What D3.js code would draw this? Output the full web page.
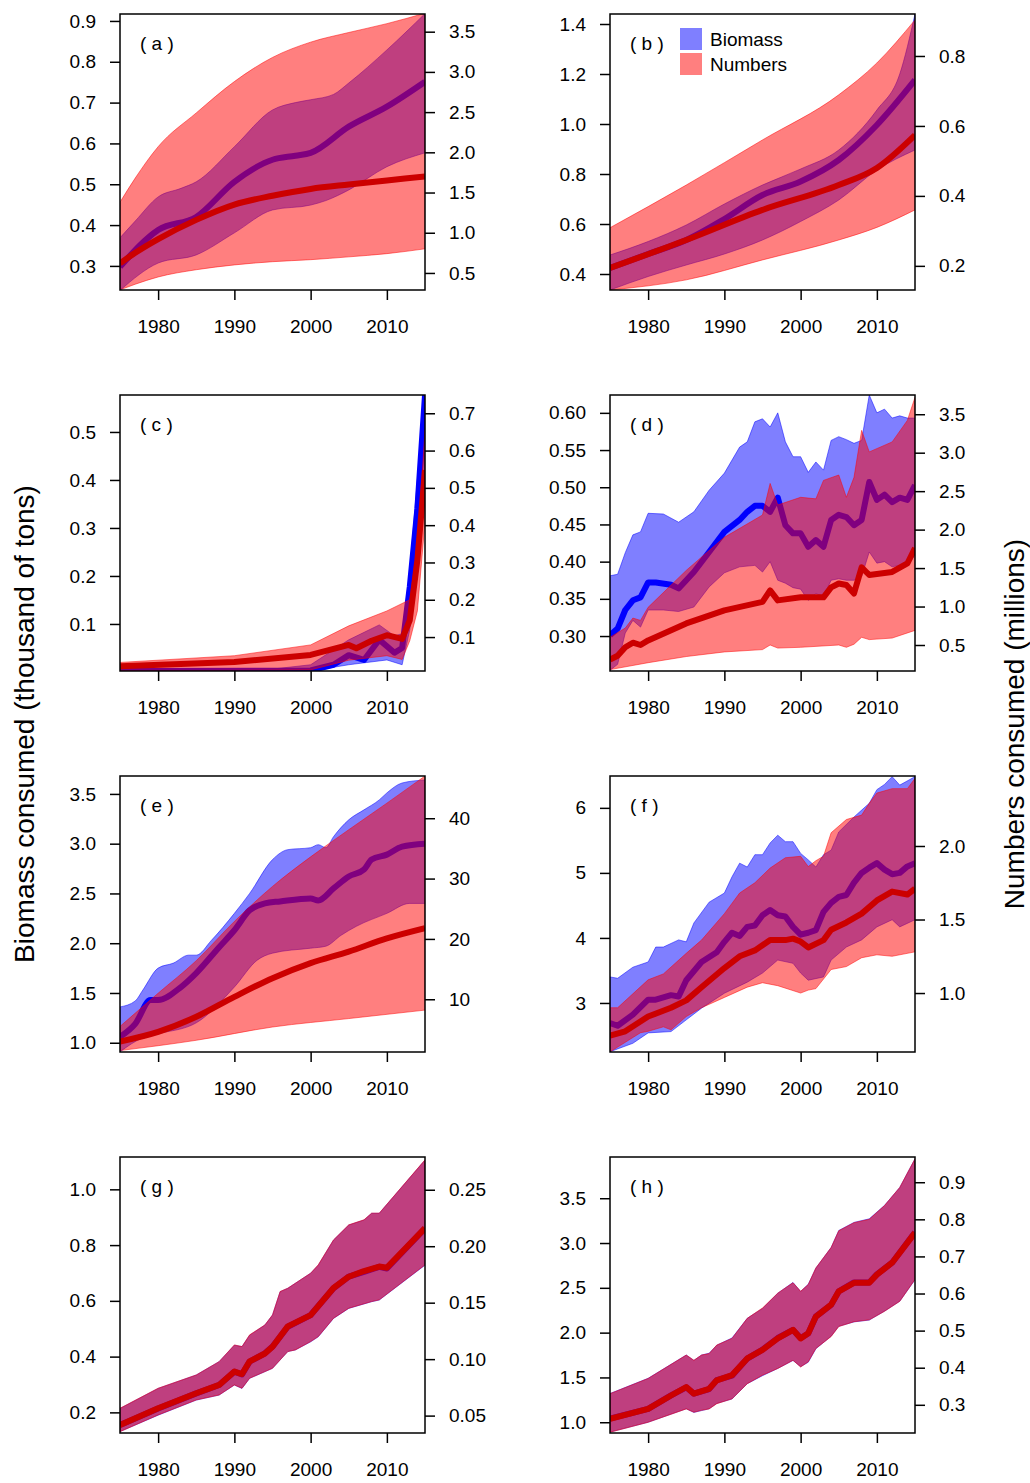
<!DOCTYPE html>
<html>
<head>
<meta charset="utf-8">
<script src="https://cdn.jsdelivr.net/npm/d3@7"></script>
<style>
  body { margin: 0; background: #fff; }
  svg { font-family: "Liberation Sans", Arial, sans-serif; }
</style>
</head>
<body>
<svg width="1030" height="1483"></svg>
<script>
// ---- data: [year, value]; biomass on left axis, numbers on right axis ----
const aBioHi = [[1975,0.369],[1977,0.41],[1980,0.469],[1983,0.49],[1985,0.506],[1990,0.592],[1995,0.682],[1998,0.70],[2000,0.707],[2003,0.72],[2005,0.748],[2010,0.829],[2015,0.918]];
const aBioMid = [[1975,0.298],[1980,0.388],[1985,0.42],[1990,0.506],[1995,0.56],[1998,0.57],[2000,0.577],[2005,0.641],[2010,0.69],[2015,0.751]];
const aBioLo = [[1975,0.24],[1980,0.307],[1985,0.327],[1990,0.381],[1995,0.437],[2000,0.449],[2002,0.46],[2005,0.486],[2010,0.543],[2015,0.577]];
const aNumHi = [[1975,1.38],[1977,1.68],[1980,2.07],[1985,2.49],[1990,2.88],[1995,3.18],[2000,3.37],[2005,3.49],[2010,3.60],[2015,3.73]];
const aNumMid = [[1975,0.62],[1977,0.75],[1980,0.92],[1985,1.16],[1990,1.35],[1995,1.46],[2000,1.545],[2005,1.60],[2010,1.65],[2015,1.70]];
const aNumLo = [[1975,0.29],[1977,0.36],[1980,0.45],[1985,0.54],[1990,0.60],[1995,0.64],[2000,0.665],[2005,0.70],[2010,0.74],[2015,0.80]];

const bBioHi = [[1975,0.476],[1980,0.53],[1985,0.596],[1990,0.68],[1995,0.756],[2000,0.82],[2005,0.896],[2010,1.056],[2013,1.2],[2015,1.44]];
const bBioMid = [[1975,0.424],[1980,0.48],[1985,0.536],[1990,0.62],[1995,0.716],[2000,0.77],[2005,0.856],[2010,0.996],[2015,1.176]];
const bBioLo = [[1975,0.336],[1980,0.39],[1985,0.436],[1990,0.48],[1995,0.536],[2000,0.61],[2005,0.696],[2010,0.816],[2015,0.896]];
const bNumHi = [[1975,0.309],[1985,0.431],[1995,0.56],[2005,0.689],[2010,0.78],[2015,0.903]];
const bNumMid = [[1975,0.194],[1985,0.274],[1995,0.36],[2005,0.431],[2010,0.48],[2015,0.574]];
const bNumLo = [[1975,0.131],[1985,0.16],[1995,0.217],[2005,0.274],[2010,0.31],[2015,0.36]];

const cBioHi = [[1975,0.005],[1995,0.006],[2000,0.015],[2005,0.067],[2009,0.098],[2011,0.075],[2012,0.08],[2013,0.21],[2014,0.4],[2015,0.577]];
const cBioMid = [[1975,0.002],[2000,0.003],[2003,0.015],[2005,0.035],[2007,0.025],[2009,0.067],[2011,0.04],[2012,0.05],[2013,0.177],[2014,0.34],[2015,0.577]];
const cBioLo = [[1975,0.002],[2000,0.002],[2005,0.015],[2010,0.025],[2012,0.015],[2013,0.088],[2014,0.23],[2015,0.42]];
const cNumHi = [[1975,0.032],[1990,0.05],[2000,0.079],[2005,0.13],[2010,0.17],[2013,0.2],[2014,0.34],[2015,0.655]];
const cNumMid = [[1975,0.022],[1990,0.033],[2000,0.052],[2005,0.079],[2006,0.07],[2008,0.09],[2010,0.105],[2012,0.095],[2013,0.145],[2014,0.306],[2015,0.548]];
const cNumLo = [[1975,0.009],[2000,0.012],[2005,0.038],[2010,0.05],[2012,0.04],[2013,0.09],[2014,0.17],[2015,0.41]];

const dBioHi = [[1975,0.381],[1976,0.383],[1977,0.412],[1978,0.436],[1979,0.44],[1980,0.465],[1982,0.464],[1984,0.453],[1986,0.467],[1988,0.496],[1990,0.519],[1992,0.554],[1993,0.561],[1994,0.588],[1995,0.592],[1996,0.581],[1997,0.60],[1998,0.561],[1999,0.541],[2000,0.541],[2001,0.52],[2002,0.534],[2003,0.523],[2004,0.563],[2005,0.568],[2006,0.564],[2007,0.559],[2008,0.563],[2009,0.624],[2010,0.60],[2011,0.605],[2012,0.593],[2013,0.596],[2014,0.593],[2015,0.593]];
const dBioMid = [[1975,0.301],[1976,0.31],[1977,0.335],[1978,0.348],[1979,0.352],[1980,0.372],[1981,0.372],[1983,0.369],[1984,0.364],[1986,0.386],[1988,0.413],[1990,0.44],[1992,0.456],[1993,0.467],[1994,0.475],[1995,0.475],[1996,0.467],[1997,0.486],[1998,0.449],[1999,0.438],[2000,0.438],[2001,0.42],[2002,0.429],[2003,0.42],[2004,0.456],[2005,0.463],[2006,0.46],[2007,0.449],[2008,0.456],[2009,0.507],[2010,0.483],[2011,0.49],[2012,0.48],[2013,0.486],[2014,0.483],[2015,0.503]];
const dBioLo = [[1975,0.254],[1976,0.262],[1977,0.304],[1978,0.321],[1979,0.312],[1980,0.335],[1982,0.335],[1984,0.333],[1986,0.339],[1988,0.366],[1990,0.385],[1992,0.393],[1994,0.395],[1995,0.386],[1996,0.40],[1997,0.375],[1998,0.371],[1999,0.365],[2000,0.363],[2001,0.348],[2002,0.357],[2003,0.353],[2004,0.375],[2005,0.377],[2006,0.375],[2007,0.375],[2008,0.38],[2009,0.413],[2010,0.398],[2011,0.40],[2012,0.393],[2013,0.395],[2014,0.395],[2015,0.409]];
const dNumHi = [[1975,0.60],[1977,0.72],[1978,0.85],[1979,0.82],[1980,0.99],[1985,1.47],[1990,1.90],[1995,2.19],[1996,2.60],[1997,2.32],[2000,2.42],[2002,2.40],[2003,2.64],[2005,2.71],[2006,2.42],[2007,2.68],[2008,3.29],[2009,3.01],[2012,3.14],[2014,3.42],[2015,3.72]];
const dNumMid = [[1975,0.31],[1976,0.36],[1977,0.47],[1978,0.53],[1979,0.50],[1980,0.56],[1985,0.78],[1990,0.95],[1995,1.06],[1996,1.21],[1997,1.08],[2000,1.12],[2003,1.12],[2004,1.25],[2005,1.30],[2006,1.28],[2007,1.17],[2008,1.51],[2009,1.41],[2012,1.45],[2014,1.56],[2015,1.76]];
const dNumLo = [[1975,0.18],[1980,0.27],[1985,0.35],[1990,0.41],[1995,0.44],[1996,0.50],[1997,0.46],[2000,0.47],[2005,0.50],[2006,0.47],[2007,0.51],[2008,0.60],[2009,0.57],[2012,0.59],[2015,0.69]];

const eBioHi = [[1975,1.36],[1977,1.42],[1978,1.53],[1980,1.75],[1982,1.80],[1984,1.88],[1985,1.88],[1987,2.03],[1990,2.30],[1992,2.50],[1995,2.84],[1997,2.94],[2000,2.96],[2001,2.99],[2002,2.96],[2003,3.07],[2005,3.24],[2007,3.34],[2009,3.44],[2010,3.51],[2012,3.61],[2015,3.64]];
const eBioMid = [[1975,1.06],[1977,1.19],[1979,1.43],[1980,1.43],[1983,1.56],[1985,1.70],[1988,1.96],[1990,2.13],[1992,2.33],[1994,2.40],[1996,2.42],[2000,2.45],[2001,2.43],[2003,2.55],[2005,2.67],[2007,2.74],[2008,2.84],[2010,2.89],[2012,2.97],[2015,3.00]];
const eBioLo = [[1975,0.91],[1978,1.05],[1980,1.09],[1985,1.20],[1990,1.56],[1993,1.83],[1995,1.90],[2000,1.95],[2002,1.97],[2004,2.08],[2006,2.17],[2010,2.30],[2013,2.40],[2015,2.40]];
const eNumHi = [[1975,5.5],[1980,11.0],[1985,16.4],[1990,22.9],[1995,28.7],[2000,33.6],[2005,38.1],[2010,42.5],[2015,47.0]];
const eNumMid = [[1975,3.0],[1980,4.6],[1985,7.1],[1990,10.4],[1995,13.5],[2000,16.0],[2005,17.9],[2010,20.1],[2015,21.8]];
const eNumLo = [[1975,1.5],[1985,3.2],[1995,5.4],[2005,6.8],[2015,8.2]];

const fBioHi = [[1975,3.40],[1976,3.38],[1978,3.55],[1980,3.63],[1981,3.86],[1982,3.86],[1984,3.97],[1985,3.94],[1986,4.23],[1988,4.55],[1990,4.69],[1991,4.94],[1992,5.15],[1993,5.09],[1994,5.28],[1995,5.28],[1996,5.46],[1997,5.58],[1998,5.48],[1999,5.48],[2000,5.30],[2001,5.20],[2002,5.09],[2003,5.28],[2004,5.35],[2005,5.63],[2007,5.86],[2009,6.07],[2010,6.28],[2011,6.36],[2012,6.48],[2013,6.35],[2015,6.48]];
const fBioMid = [[1975,2.69],[1976,2.65],[1978,2.82],[1980,3.05],[1981,3.05],[1983,3.12],[1984,3.10],[1985,3.35],[1987,3.63],[1989,3.78],[1990,3.94],[1991,4.08],[1992,4.03],[1993,4.17],[1994,4.19],[1995,4.35],[1996,4.43],[1997,4.35],[1998,4.33],[1999,4.17],[2000,4.05],[2001,4.08],[2002,4.12],[2003,4.40],[2004,4.54],[2005,4.63],[2006,4.66],[2007,4.85],[2008,5.00],[2009,5.08],[2010,5.15],[2011,5.05],[2012,4.98],[2013,5.00],[2014,5.10],[2015,5.15]];
const fBioLo = [[1975,2.25],[1978,2.38],[1980,2.54],[1983,2.56],[1985,2.74],[1987,2.92],[1990,3.15],[1993,3.32],[1995,3.46],[1997,3.66],[1999,3.61],[2000,3.46],[2001,3.35],[2003,3.40],[2004,3.66],[2006,3.86],[2008,3.97],[2010,4.17],[2012,4.28],[2013,4.17],[2015,4.28]];
const fNumHi = [[1975,0.90],[1976,0.90],[1980,1.09],[1982,1.13],[1985,1.27],[1987,1.36],[1990,1.54],[1992,1.68],[1994,1.75],[1996,1.85],[1998,1.92],[2000,1.93],[2001,1.86],[2002,1.90],[2003,1.93],[2004,2.09],[2006,2.18],[2008,2.21],[2009,2.29],[2010,2.36],[2012,2.39],[2014,2.39],[2015,2.46]];
const fNumMid = [[1975,0.71],[1977,0.74],[1980,0.84],[1983,0.90],[1985,0.95],[1987,1.04],[1990,1.17],[1992,1.25],[1994,1.29],[1996,1.36],[1998,1.36],[1999,1.37],[2000,1.35],[2001,1.31],[2003,1.36],[2004,1.43],[2006,1.48],[2008,1.54],[2010,1.63],[2012,1.69],[2014,1.67],[2015,1.71]];
const fNumLo = [[1975,0.60],[1979,0.73],[1980,0.74],[1982,0.77],[1983,0.75],[1985,0.84],[1987,0.90],[1990,0.97],[1993,1.04],[1995,1.07],[1997,1.05],[2000,1.00],[2001,1.02],[2002,1.03],[2004,1.16],[2006,1.18],[2008,1.24],[2010,1.26],[2012,1.25],[2015,1.28]];

const gBioHi = [[1975,0.214],[1980,0.286],[1985,0.334],[1988,0.382],[1990,0.441],[1991,0.436],[1992,0.477],[1994,0.513],[1995,0.549],[1996,0.633],[1997,0.645],[1999,0.681],[2000,0.699],[2001,0.728],[2003,0.818],[2005,0.872],[2007,0.890],[2008,0.914],[2009,0.914],[2015,1.105]];
const gBioMid = [[1975,0.155],[1980,0.214],[1985,0.268],[1988,0.298],[1990,0.346],[1991,0.336],[1992,0.382],[1994,0.412],[1995,0.436],[1997,0.507],[2000,0.549],[2003,0.645],[2005,0.687],[2007,0.704],[2009,0.722],[2010,0.716],[2015,0.860]];
const gBioLo = [[1975,0.131],[1980,0.190],[1985,0.244],[1988,0.262],[1990,0.298],[1991,0.286],[1992,0.322],[1995,0.358],[1997,0.418],[1998,0.424],[2000,0.453],[2001,0.471],[2003,0.537],[2005,0.573],[2008,0.597],[2009,0.603],[2015,0.728]];
const gNumHi = [[1975,0.0565],[1980,0.0742],[1985,0.086],[1988,0.0978],[1990,0.1126],[1991,0.1111],[1992,0.1215],[1994,0.1303],[1995,0.1392],[1996,0.1599],[1997,0.1628],[1999,0.1717],[2000,0.1761],[2001,0.1835],[2003,0.2056],[2005,0.2189],[2007,0.2234],[2008,0.2293],[2009,0.2293],[2015,0.2765]];
const gNumMid = [[1975,0.0417],[1980,0.0565],[1985,0.0698],[1988,0.0772],[1990,0.089],[1991,0.0868],[1992,0.098],[1994,0.105],[1995,0.111],[1997,0.129],[2000,0.139],[2003,0.163],[2005,0.173],[2007,0.178],[2009,0.182],[2010,0.181],[2015,0.216]];
const gNumLo = [[1975,0.0358],[1980,0.0506],[1985,0.0639],[1988,0.0683],[1990,0.0772],[1991,0.0742],[1992,0.0831],[1995,0.0919],[1997,0.1067],[1998,0.1082],[2000,0.1156],[2001,0.12],[2003,0.1362],[2005,0.1451],[2008,0.151],[2009,0.1525],[2015,0.1835]];

const hBioHi = [[1975,1.32],[1980,1.49],[1985,1.75],[1986,1.69],[1987,1.75],[1988,1.77],[1989,1.86],[1991,1.94],[1993,2.16],[1995,2.27],[1997,2.44],[1999,2.56],[2000,2.46],[2001,2.54],[2002,2.72],[2004,2.95],[2005,3.14],[2007,3.23],[2009,3.27],[2011,3.42],[2013,3.62],[2015,3.94]];
const hBioMid = [[1975,1.04],[1980,1.15],[1983,1.30],[1985,1.39],[1986,1.32],[1988,1.37],[1989,1.47],[1991,1.52],[1993,1.71],[1995,1.81],[1997,1.94],[1999,2.03],[2000,1.94],[2001,1.99],[2002,2.18],[2004,2.31],[2005,2.46],[2007,2.56],[2009,2.56],[2010,2.65],[2012,2.78],[2015,3.12]];
const hBioLo = [[1975,0.89],[1980,1.00],[1985,1.15],[1986,1.11],[1987,1.13],[1988,1.15],[1989,1.21],[1991,1.26],[1993,1.43],[1995,1.52],[1997,1.60],[1999,1.69],[2000,1.62],[2001,1.67],[2002,1.82],[2004,1.96],[2005,2.07],[2007,2.12],[2009,2.14],[2011,2.24],[2013,2.35],[2015,2.59]];
const hNumHi = [[1975,0.330],[1980,0.371],[1985,0.434],[1986,0.420],[1987,0.434],[1988,0.438],[1989,0.461],[1991,0.479],[1993,0.533],[1995,0.561],[1997,0.601],[1999,0.629],[2000,0.606],[2001,0.624],[2002,0.669],[2004,0.724],[2005,0.769],[2007,0.791],[2009,0.800],[2011,0.837],[2013,0.886],[2015,0.963]];
const hNumMid = [[1975,0.262],[1980,0.289],[1983,0.325],[1985,0.348],[1986,0.330],[1988,0.343],[1989,0.366],[1991,0.380],[1993,0.425],[1995,0.448],[1997,0.479],[1999,0.502],[2000,0.479],[2001,0.493],[2002,0.538],[2004,0.570],[2005,0.606],[2007,0.629],[2009,0.629],[2010,0.651],[2012,0.683],[2015,0.764]];
const hNumLo = [[1975,0.226],[1980,0.253],[1985,0.289],[1986,0.280],[1987,0.285],[1988,0.289],[1989,0.303],[1991,0.316],[1993,0.357],[1995,0.380],[1997,0.398],[1999,0.420],[2000,0.402],[2001,0.416],[2002,0.452],[2004,0.484],[2005,0.511],[2007,0.524],[2009,0.529],[2011,0.552],[2013,0.579],[2015,0.638]];

const xTicks = [1980, 1990, 2000, 2010];

// panel setup (axis ranges and tick labels)
const panels = [
  { id: "a", col: 0, row: 0, smooth: true, bio: [aBioLo, aBioMid, aBioHi], num: [aNumLo, aNumMid, aNumHi],
    left: [0.241, 0.917], leftTicks: [0.3,0.4,0.5,0.6,0.7,0.8,0.9], lf: ".1f",
    right: [0.288, 3.72], rightTicks: [0.5,1.0,1.5,2.0,2.5,3.0,3.5], rf: ".1f" },
  { id: "b", col: 1, row: 0, smooth: true, bio: [bBioLo, bBioMid, bBioHi], num: [bNumLo, bNumMid, bNumHi],
    left: [0.336, 1.44], leftTicks: [0.4,0.6,0.8,1.0,1.2,1.4], lf: ".1f",
    right: [0.131, 0.92], rightTicks: [0.2,0.4,0.6,0.8], rf: ".1f" },
  { id: "c", col: 0, row: 1, smooth: false, bio: [cBioLo, cBioMid, cBioHi], num: [cNumLo, cNumMid, cNumHi],
    left: [0.002, 0.577], leftTicks: [0.1,0.2,0.3,0.4,0.5], lf: ".1f",
    right: [0.009, 0.749], rightTicks: [0.1,0.2,0.3,0.4,0.5,0.6,0.7], rf: ".1f" },
  { id: "d", col: 1, row: 1, smooth: false, bio: [dBioLo, dBioMid, dBioHi], num: [dNumLo, dNumMid, dNumHi],
    left: [0.253, 0.624], leftTicks: [0.30,0.35,0.40,0.45,0.50,0.55,0.60], lf: ".2f",
    right: [0.162, 3.75], rightTicks: [0.5,1.0,1.5,2.0,2.5,3.0,3.5], rf: ".1f" },
  { id: "e", col: 0, row: 2, smooth: true, bio: [eBioLo, eBioMid, eBioHi], num: [eNumLo, eNumMid, eNumHi],
    left: [0.907, 3.68], leftTicks: [1.0,1.5,2.0,2.5,3.0,3.5], lf: ".1f",
    right: [1.26, 47.0], rightTicks: [10,20,30,40], rf: "d" },
  { id: "f", col: 1, row: 2, smooth: false, bio: [fBioLo, fBioMid, fBioHi], num: [fNumLo, fNumMid, fNumHi],
    left: [2.246, 6.49], leftTicks: [3,4,5,6], lf: "d",
    right: [0.599, 2.476], rightTicks: [1.0,1.5,2.0], rf: ".1f" },
  { id: "g", col: 0, row: 3, smooth: false, bio: [gBioLo, gBioMid, gBioHi], num: [gNumLo, gNumMid, gNumHi],
    left: [0.126, 1.116], leftTicks: [0.2,0.4,0.6,0.8,1.0], lf: ".1f",
    right: [0.0346, 0.279], rightTicks: [0.05,0.10,0.15,0.20,0.25], rf: ".2f" },
  { id: "h", col: 1, row: 3, smooth: false, bio: [hBioLo, hBioMid, hBioHi], num: [hNumLo, hNumMid, hNumHi],
    left: [0.88, 3.96], leftTicks: [1.0,1.5,2.0,2.5,3.0,3.5], lf: ".1f",
    right: [0.224, 0.968], rightTicks: [0.3,0.4,0.5,0.6,0.7,0.8,0.9], rf: ".1f" }
];

const svg = d3.select("svg");
const colX = [120, 610], rowY = [14, 395, 776, 1157];
const W = 305, H = 276;
const fontSize = 19;

panels.forEach(p => {
  const g = svg.append("g").attr("transform", `translate(${colX[p.col]},${rowY[p.row]})`);
  const x = d3.scaleLinear().domain([1975, 2015]).range([0, W]);
  const yL = d3.scaleLinear().domain(p.left).range([H, 0]);
  const yR = d3.scaleLinear().domain(p.right).range([H, 0]);

  g.append("clipPath").attr("id", "clip-" + p.id)
    .append("rect").attr("width", W).attr("height", H);
  const plot = g.append("g").attr("clip-path", `url(#clip-${p.id})`);

  const curve = p.smooth ? d3.curveMonotoneX : d3.curveLinear;
  const line = y => d3.line().x(d => x(d[0])).y(d => y(d[1])).curve(curve);
  // band: upper edge forward, lower edge back
  function bandPath(lo, hi, y) {
    const up = line(y)(hi);
    const back = line(y)(lo.slice().reverse());
    return up + "L" + back.slice(1) + "Z";
  }

  // biomass (blue), then numbers (red) on top
  plot.append("path").attr("d", bandPath(p.bio[0], p.bio[2], yL))
    .attr("fill", "rgba(0,0,255,0.5)").attr("stroke", "rgba(0,0,255,0.5)").attr("stroke-width", 1);
  plot.append("path").attr("d", line(yL)(p.bio[1]))
    .attr("fill", "none").attr("stroke", "#0000ff").attr("stroke-width", 6).attr("stroke-linejoin", "round");
  plot.append("path").attr("d", bandPath(p.num[0], p.num[2], yR))
    .attr("fill", "rgba(255,0,0,0.5)").attr("stroke", "rgba(255,0,0,0.5)").attr("stroke-width", 1);
  plot.append("path").attr("d", line(yR)(p.num[1]))
    .attr("fill", "none").attr("stroke", "#cc0000").attr("stroke-width", 6).attr("stroke-linejoin", "round");

  g.append("rect").attr("width", W).attr("height", H)
    .attr("fill", "none").attr("stroke", "#000").attr("stroke-width", 1.5);

  // axes
  const ax = g.append("g").attr("transform", `translate(0,${H})`)
    .call(d3.axisBottom(x).tickValues(xTicks).tickFormat(d3.format("d")).tickSize(10).tickPadding(20));
  const al = g.append("g")
    .call(d3.axisLeft(yL).tickValues(p.leftTicks).tickFormat(d3.format(p.lf)).tickSize(10).tickPadding(14));
  const ar = g.append("g").attr("transform", `translate(${W},0)`)
    .call(d3.axisRight(yR).tickValues(p.rightTicks).tickFormat(d3.format(p.rf)).tickSize(10).tickPadding(14));
  [ax, al, ar].forEach(a => {
    a.select(".domain").remove();
    a.selectAll("line").attr("stroke", "#000").attr("stroke-width", 1.5);
    a.selectAll("text").attr("font-size", fontSize).attr("fill", "#000")
      .attr("font-family", "Liberation Sans, Arial, sans-serif");
  });

  g.append("text").attr("x", 20).attr("y", 36).attr("font-size", fontSize)
    .attr("xml:space", "preserve").text(`( ${p.id} )`);
});

// legend in panel b
const legend = [["Biomass", "rgba(0,0,255,0.5)"], ["Numbers", "rgba(255,0,0,0.5)"]];
const lg = svg.append("g").attr("transform", "translate(680,28)");
legend.forEach((d, i) => {
  lg.append("rect").attr("x", 0).attr("y", i * 25).attr("width", 22).attr("height", 22).attr("fill", d[1]);
  lg.append("text").attr("x", 30).attr("y", i * 25 + 18).attr("font-size", fontSize).text(d[0]);
});

// axis titles
svg.append("text").attr("transform", "translate(34,724) rotate(-90)")
  .attr("text-anchor", "middle").attr("font-size", 28).text("Biomass consumed (thousand of tons)");
svg.append("text").attr("transform", "translate(1024,724) rotate(-90)")
  .attr("text-anchor", "middle").attr("font-size", 28).text("Numbers consumed (millions)");
</script>
</body>
</html>
